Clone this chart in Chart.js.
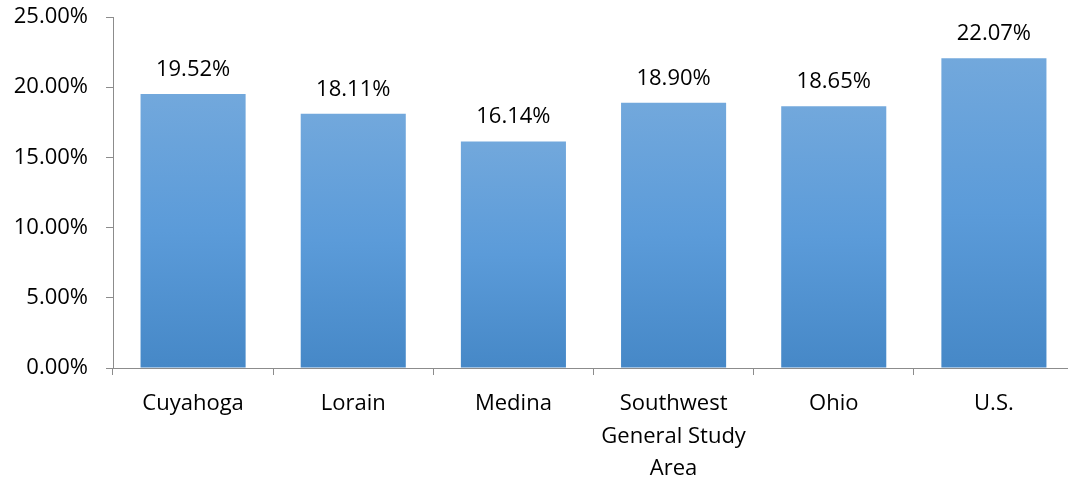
<!DOCTYPE html>
<html>
<head>
<meta charset="utf-8">
<script src="https://cdn.jsdelivr.net/npm/chart.js@4"></script>
<style>
    html, body { margin: 0; padding: 0; background: #fff; overflow: hidden; }
    #wrap { width: 1080px; height: 479px; position: relative; }
</style>
</head>
<body>
<div id="wrap"><canvas id="barChart" width="1080" height="479"></canvas></div>
<script>
const categories = ['Cuyahoga', 'Lorain', 'Medina', ['Southwest', 'General Study', 'Area'], 'Ohio', 'U.S.'];
const shares = [19.52, 18.11, 16.14, 18.90, 18.65, 22.07];
const yTicks = [0, 5, 10, 15, 20, 25];

const FONT = '"Open Sans", "Liberation Sans", sans-serif';
const AXIS_GREY = '#8c8c8c';

// vertical blue gradient, one per bar
function barFill(ctx) {
    const chart = ctx.chart;
    const y = chart.scales.y;
    if (!chart.chartArea || !y || ctx.dataIndex === undefined) return '#5b9bd9';
    const top = y.getPixelForValue(ctx.raw);
    const base = y.getPixelForValue(0);
    if (!isFinite(top) || !isFinite(base) || top === base) return '#5b9bd9';
    const g = chart.ctx.createLinearGradient(0, top, 0, base);
    g.addColorStop(0, '#72a8dc');
    g.addColorStop(0.5, '#5b9bd9');
    g.addColorStop(1, '#4688c7');
    return g;
}

const valueLabels = {
    id: 'valueLabels',
    afterDatasetsDraw(chart) {
        const ctx = chart.ctx;
        const meta = chart.getDatasetMeta(0);
        ctx.save();
        ctx.font = '22px ' + FONT;
        ctx.fillStyle = '#000';
        ctx.textAlign = 'center';
        ctx.textBaseline = 'alphabetic';
        meta.data.forEach((bar, i) => {
            ctx.fillText(shares[i].toFixed(2) + '%', bar.x, bar.y - 18);
        });
        ctx.restore();
    }
};

new Chart(document.getElementById('barChart').getContext('2d'), {
    type: 'bar',
    data: {
        labels: categories,
        datasets: [{
            data: shares,
            backgroundColor: barFill,
            borderWidth: 0,
            categoryPercentage: 1,
            barPercentage: 0.656
        }]
    },
    options: {
        responsive: false,
        animation: false,
        layout: { padding: { top: 17, right: 6, left: 0, bottom: 0 } },
        plugins: {
            legend: { display: false },
            tooltip: { enabled: false }
        },
        scales: {
            x: {
                grid: {
                    offset: true,
                    drawOnChartArea: false,
                    color: AXIS_GREY,
                    tickLength: 7
                },
                border: { color: AXIS_GREY, width: 1 },
                ticks: {
                    color: '#000',
                    padding: 13,
                    maxRotation: 0,
                    autoSkip: false,
                    font: { family: FONT, size: 22, lineHeight: 1.47 }
                },
                afterFit(scale) { scale.height = 111; }
            },
            y: {
                min: 0,
                max: 25,
                afterBuildTicks(scale) { scale.ticks = yTicks.map(v => ({ value: v })); },
                grid: {
                    drawOnChartArea: false,
                    color: AXIS_GREY,
                    tickLength: 7
                },
                border: { color: AXIS_GREY, width: 1 },
                ticks: {
                    color: '#000',
                    padding: 18,
                    font: { family: FONT, size: 22 },
                    callback: v => v.toFixed(2) + '%'
                },
                afterFit(scale) {
                    scale.width = 113;
                    scale.paddingTop = 0;
                    scale.paddingBottom = 0;
                }
            }
        }
    },
    plugins: [valueLabels]
});
</script>
</body>
</html>
